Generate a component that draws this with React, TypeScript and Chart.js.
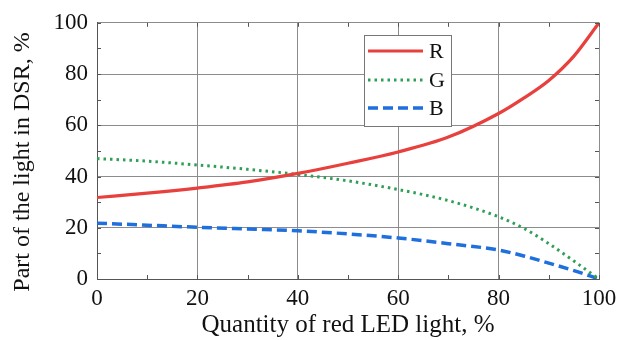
import React, { useEffect, useRef } from "react";
import { Chart, registerables } from "chart.js";

Chart.register(...registerables);

const xValues = [0, 10, 20, 30, 40, 50, 60, 70, 80, 85, 90, 95, 100];
const rValues = [31.8, 33.5, 35.5, 37.9, 41.2, 45.2, 49.6, 55.4, 64.6, 70.6, 77.5, 87, 100];
const gValues = [47, 46, 44.5, 42.8, 40.8, 38.3, 34.9, 30.6, 24.3, 19.8, 13.8, 7, 0];
const bValues = [21.8, 21, 20.2, 19.5, 18.8, 17.6, 16, 13.8, 11.3, 9, 6.2, 3.3, 0];
const seriesNames = ["R", "G", "B"];
const xTitle = "Quantity of red LED light, %";
const yTitle = "Part of the light in DSR, %";

const FONT = "'Liberation Serif', 'Times New Roman', serif";

const innerTicks = {
  id: "innerTicks",
  afterDatasetsDraw(chart: any) {
    const { ctx, chartArea, scales } = chart;
    const x = scales.x;
    const y = scales.y;
    ctx.save();
    ctx.strokeStyle = "#555";
    ctx.lineWidth = 1;
    const len = 4;
    for (let v = 0; v <= 100; v += 10) {
      const px = Math.round(x.getPixelForValue(v)) + 0.5;
      ctx.beginPath();
      ctx.moveTo(px, chartArea.bottom);
      ctx.lineTo(px, chartArea.bottom - len);
      ctx.moveTo(px, chartArea.top);
      ctx.lineTo(px, chartArea.top + len);
      ctx.stroke();
      const py = Math.round(y.getPixelForValue(v)) + 0.5;
      ctx.beginPath();
      ctx.moveTo(chartArea.left, py);
      ctx.lineTo(chartArea.left + len, py);
      ctx.moveTo(chartArea.right, py);
      ctx.lineTo(chartArea.right - len, py);
      ctx.stroke();
    }
    ctx.restore();
  },
};

const axisTitles = {
  id: "axisTitles",
  afterDraw(chart: any) {
    const { ctx, chartArea } = chart;
    ctx.save();
    ctx.fillStyle = "#111";
    ctx.font = `25px ${FONT}`;
    ctx.textAlign = "center";
    ctx.textBaseline = "middle";
    ctx.fillText(xTitle, (chartArea.left + chartArea.right) / 2, 325);
    ctx.font = `24px ${FONT}`;
    ctx.translate(23, 162);
    ctx.rotate(-Math.PI / 2);
    ctx.fillText(yTitle, 0, 0);
    ctx.restore();
  },
};

const boxLegend = {
  id: "boxLegend",
  afterDatasetsDraw(chart: any) {
    const { ctx } = chart;
    const bx = 364.5, by = 35.5, bw = 87, bh = 91;
    ctx.save();
    ctx.fillStyle = "#ffffff";
    ctx.fillRect(bx, by, bw, bh);
    ctx.strokeStyle = "#777";
    ctx.lineWidth = 1;
    ctx.strokeRect(bx, by, bw, bh);
    const rowsY = [51, 80, 108];
    chart.data.datasets.forEach((ds: any, i: number) => {
      const yy = rowsY[i];
      ctx.beginPath();
      ctx.strokeStyle = ds.borderColor;
      ctx.lineWidth = ds.borderWidth;
      ctx.setLineDash(ds.borderDash || []);
      ctx.lineCap = ds.borderCapStyle || "butt";
      ctx.moveTo(368, yy);
      ctx.lineTo(423, yy);
      ctx.stroke();
      ctx.setLineDash([]);
      ctx.fillStyle = "#111";
      ctx.font = `22px ${FONT}`;
      ctx.textBaseline = "middle";
      ctx.textAlign = "left";
      ctx.fillText(ds.label, 429, yy + 1);
    });
    ctx.restore();
  },
};

export default function App() {
  const ref = useRef<HTMLCanvasElement | null>(null);
  useEffect(() => {
    if (!ref.current) return;
    const mk = (vals: number[]) => xValues.map((x, i) => ({ x, y: vals[i] }));
    const chart = new Chart(ref.current, {
      type: "line",
      data: {
        datasets: [
          {
            label: seriesNames[0],
            data: mk(rValues),
            borderColor: "#e8403d",
            borderWidth: 3.2,
            pointRadius: 0,
            cubicInterpolationMode: "monotone",
          },
          {
            label: seriesNames[1],
            data: mk(gValues),
            borderColor: "#2f9f55",
            borderWidth: 3,
            borderDash: [2.5, 4],
            pointRadius: 0,
            cubicInterpolationMode: "monotone",
          },
          {
            label: seriesNames[2],
            data: mk(bValues),
            borderColor: "#1f6fdc",
            borderWidth: 3.5,
            borderDash: [10, 5],
            pointRadius: 0,
            cubicInterpolationMode: "monotone",
          },
        ],
      },
      options: {
        animation: false,
        responsive: false,
        layout: { padding: { left: 0, right: 29, top: 19, bottom: 0 } },
        plugins: { legend: { display: false }, tooltip: { enabled: false } },
        scales: {
          x: {
            type: "linear",
            min: 0,
            max: 100,
            ticks: { stepSize: 20, color: "#111", font: { family: FONT, size: 23 }, padding: 6 },
            grid: { color: "#8c8c8c", drawTicks: false, lineWidth: 1 },
            border: { color: "#555", width: 1 },
            title: { display: false },
            afterFit: (s: any) => {
              s.height = 61;
            },
          },
          y: {
            min: 0,
            max: 100,
            ticks: { stepSize: 20, color: "#111", font: { family: FONT, size: 23 }, padding: 9 },
            grid: { color: "#8c8c8c", drawTicks: false, lineWidth: 1 },
            border: { color: "#555", width: 1 },
            title: { display: false },
            afterFit: (s: any) => {
              s.width = 97;
            },
          },
        },
      },
      plugins: [innerTicks, boxLegend, axisTitles],
    });
    return () => chart.destroy();
  }, []);
  return (
    <div style={{ position: "fixed", left: 0, top: 0, width: 628, height: 340, background: "#fff" }}>
      <canvas ref={ref} width={628} height={340} style={{ width: 628, height: 340 }} />
    </div>
  );
}
